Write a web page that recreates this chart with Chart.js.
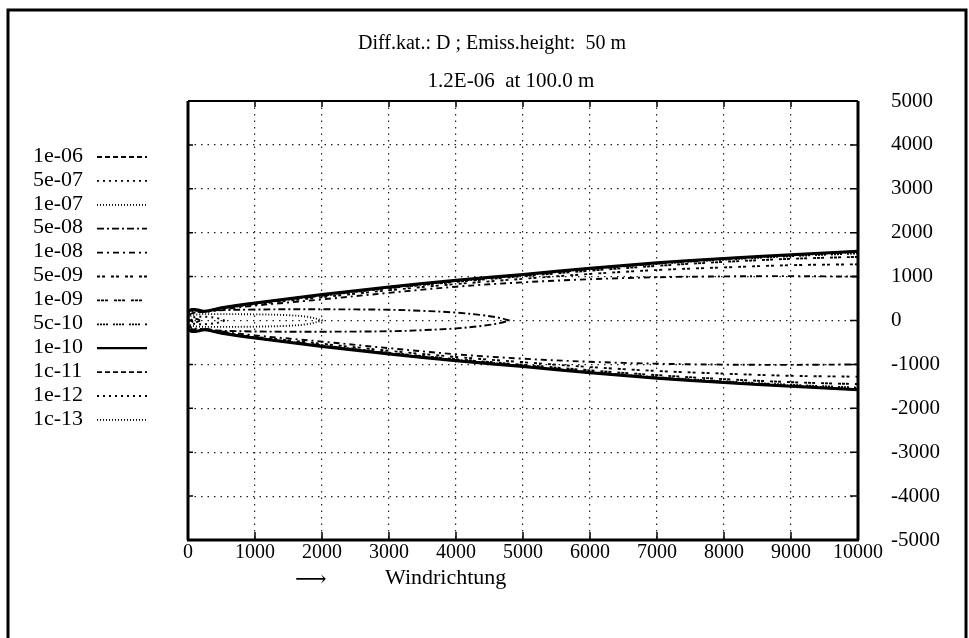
<!DOCTYPE html>
<html>
<head>
<meta charset="utf-8">
<script src="https://cdn.jsdelivr.net/npm/chart.js@4"></script>
<style>
  body { margin: 0; background: #fff; }
  canvas { display: block; }
</style>
</head>
<body>
<canvas id="plume" width="969" height="638"></canvas>
<script>
// contour labels as printed in the legend
const contourLabels = ['1e-06', '5e-07', '1e-07', '5e-08', '1e-08', '5e-09', '1e-09', '5c-10', '1e-10', '1c-11', '1e-12', '1c-13'];

// closed contours: distance downwind (m) and half width (m)
const c1e06X = [40, 70, 100, 140, 180];
const c1e06W = [0, 30, 40, 30, 0];
const c5e07X = [20, 60, 150, 300, 450, 550];
const c5e07W = [0, 60, 85, 80, 50, 0];
const c1e07X = [0, 100, 400, 1000, 1500, 1800, 2010];
const c1e07W = [60, 130, 145, 140, 120, 80, 0];
const c5e08X = [0, 100, 300, 1000, 2000, 3000, 3500, 4000, 4400, 4650, 4800];
const c5e08W = [100, 180, 220, 250, 255, 245, 220, 180, 120, 60, 0];

// open contours, all on the same downwind distances
const distX = [0, 60, 150, 250, 500, 1000, 2000, 3000, 4000, 5000, 6000, 7000, 8000, 9000, 10000];
const c1e08W = [140, 200, 200, 190, 250, 340, 480, 630, 770, 870, 940, 985, 1005, 1010, 1000];
const c5e09W = [160, 220, 220, 200, 270, 370, 530, 690, 830, 950, 1060, 1150, 1210, 1260, 1280];
const c1e09W = [170, 240, 230, 205, 280, 390, 565, 735, 880, 1010, 1135, 1245, 1335, 1405, 1450];
const c5e10W = [175, 245, 235, 208, 285, 395, 575, 750, 900, 1035, 1170, 1290, 1385, 1465, 1530];
const c1e10W = [180, 250, 240, 210, 290, 400, 590, 765, 915, 1050, 1190, 1315, 1415, 1500, 1580];
const c1e11W = [178, 248, 238, 208, 288, 398, 585, 760, 910, 1045, 1185, 1310, 1410, 1495, 1575];
const c1e12W = [176, 246, 236, 206, 285, 394, 580, 755, 905, 1040, 1180, 1305, 1405, 1490, 1570];
const c1e13W = [174, 244, 234, 204, 282, 390, 576, 750, 900, 1035, 1175, 1300, 1400, 1485, 1565];

// axis ticks
const xTicks = [0, 1000, 2000, 3000, 4000, 5000, 6000, 7000, 8000, 9000, 10000];
const yTicks = [5000, 4000, 3000, 2000, 1000, 0, -1000, -2000, -3000, -4000, -5000];

const dashes = [
    [5, 3], [2, 4], [1, 2], [7, 3, 2, 3], [6, 4, 2, 4], [3, 2, 3, 6],
    [3, 1, 3, 1, 3, 6], [2, 1, 2, 1, 2, 1, 2, 5], [], [5, 3], [2, 4], [1, 2]
];

const contours = [
    [c1e06X, c1e06W], [c5e07X, c5e07W], [c1e07X, c1e07W], [c5e08X, c5e08W],
    [distX, c1e08W], [distX, c5e09W], [distX, c1e09W], [distX, c5e10W],
    [distX, c1e10W], [distX, c1e11W], [distX, c1e12W], [distX, c1e13W]
];

// one loop per contour: out along the upper edge, back along the lower one
function loop(xs, ws) {
    const upper = xs.map((x, i) => ({ x: x, y: ws[i] })).reverse();
    const lower = xs.map((x, i) => ({ x: x, y: -ws[i] }));
    return upper.concat(lower);
}

const datasets = contours.map((c, i) => ({
    label: contourLabels[i],
    data: loop(c[0], c[1]),
    showLine: true,
    pointRadius: 0,
    borderColor: '#000',
    borderWidth: i === 8 ? 3 : 1.9,
    borderDash: dashes[i],
    tension: 0.35,
    fill: false,
    order: i === 8 ? -1 : i
}));

const FONT = 'Liberation Serif';
const LEFT = 188, RIGHT = 858, TOP = 101, BOTTOM = 540;

const paperPlugin = {
    id: 'paper',
    beforeDraw(chart) {
        const ctx = chart.ctx;
        ctx.save();
        ctx.fillStyle = '#fff';
        ctx.fillRect(0, 0, chart.width, chart.height);
        ctx.restore();
    },
    afterDraw(chart) {
        const ctx = chart.ctx;
        const a = chart.chartArea;
        const sx = chart.scales.x, sy = chart.scales.y;
        ctx.save();
        ctx.strokeStyle = '#000';
        ctx.fillStyle = '#000';

        // outer frame
        ctx.lineWidth = 3;
        ctx.strokeRect(8, 10, 958, 640);

        // plot frame
        ctx.lineWidth = 3;
        ctx.beginPath();
        ctx.moveTo(a.left, a.top); ctx.lineTo(a.left, a.bottom);
        ctx.moveTo(a.right, a.top); ctx.lineTo(a.right, a.bottom);
        ctx.moveTo(a.left - 1, a.bottom); ctx.lineTo(a.right + 1, a.bottom);
        ctx.stroke();
        ctx.lineWidth = 2;
        ctx.beginPath();
        ctx.moveTo(a.left, a.top); ctx.lineTo(a.right, a.top);
        ctx.stroke();

        // inward tick marks
        ctx.lineWidth = 1.5;
        ctx.beginPath();
        xTicks.forEach(v => {
            const px = sx.getPixelForValue(v);
            ctx.moveTo(px, a.bottom); ctx.lineTo(px, a.bottom - 8);
            ctx.moveTo(px, a.top); ctx.lineTo(px, a.top + 6);
        });
        yTicks.forEach(v => {
            const py = sy.getPixelForValue(v);
            ctx.moveTo(a.right, py); ctx.lineTo(a.right - 8, py);
            ctx.moveTo(a.left, py); ctx.lineTo(a.left + 5, py);
        });
        ctx.stroke();

        // titles
        ctx.textAlign = 'center';
        ctx.textBaseline = 'middle';
        ctx.font = '20px "' + FONT + '"';
        ctx.fillText('Diff.kat.: D ; Emiss.height:  50 m', 492, 44);
        ctx.font = '21px "' + FONT + '"';
        ctx.fillText('1.2E-06  at 100.0 m', 511, 81);

        // axis caption
        ctx.textAlign = 'left';
        ctx.font = '22px "DejaVu Serif"';
        ctx.fillText('\u27F6', 295, 580);
        ctx.font = '22px "' + FONT + '"';
        ctx.fillText('Windrichtung', 385, 578);

        // legend
        contourLabels.forEach((lab, i) => {
            const y = 156 + i * 23.9;
            ctx.font = '22px "' + FONT + '"';
            ctx.fillText(lab, 33, y);
            ctx.beginPath();
            ctx.lineWidth = i === 8 ? 2.2 : 1.8;
            ctx.setLineDash(dashes[i]);
            ctx.moveTo(97, y + 1);
            ctx.lineTo(147, y + 1);
            ctx.stroke();
        });
        ctx.setLineDash([]);
        ctx.restore();
    }
};

new Chart(document.getElementById('plume'), {
    type: 'scatter',
    data: { datasets: datasets },
    options: {
        responsive: false,
        animation: false,
        layout: { padding: { left: LEFT, top: TOP, right: 0, bottom: 0 } },
        plugins: {
            legend: { display: false },
            title: { display: false },
            tooltip: { enabled: false }
        },
        scales: {
            x: {
                type: 'linear',
                min: 0,
                max: 10000,
                afterFit: s => { s.height = 638 - BOTTOM; },
                afterBuildTicks: s => { s.ticks = xTicks.map(v => ({ value: v })); },
                ticks: {
                    color: '#000',
                    font: { family: FONT, size: 20 },
                    padding: 1,
                    maxRotation: 0,
                    autoSkip: false,
                    callback: v => String(v)
                },
                grid: { color: '#222', lineWidth: 1.2, drawTicks: false },
                border: { display: false, dash: [1.5, 5] }
            },
            y: {
                type: 'linear',
                position: 'right',
                min: -5000,
                max: 5000,
                afterFit: s => { s.width = 969 - RIGHT; },
                afterBuildTicks: s => { s.ticks = yTicks.slice().reverse().map(v => ({ value: v })); },
                ticks: {
                    color: '#000',
                    font: { family: FONT, size: 21 },
                    padding: 33,
                    autoSkip: false,
                    callback: v => String(v)
                },
                grid: { color: '#222', lineWidth: 1.2, drawTicks: false },
                border: { display: false, dash: [1.5, 5] }
            }
        }
    },
    plugins: [paperPlugin]
});
</script>
</body>
</html>
